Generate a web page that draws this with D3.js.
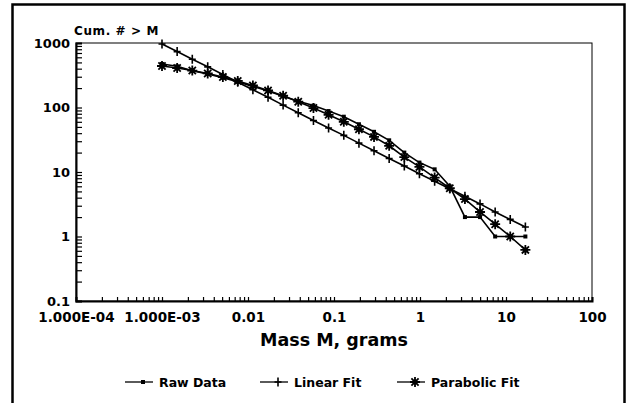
<!DOCTYPE html>
<html>
<head>
<meta charset="utf-8">
<script src="https://cdn.jsdelivr.net/npm/d3@7"></script>
<style>
  body { margin: 0; background: #fff; }
  svg { display: block; font-family: "DejaVu Sans", sans-serif; font-weight: bold; }
</style>
</head>
<body>
<div id="chart"></div>
<script>
// values
var masses = [0.001, 0.0015, 0.00225, 0.0034, 0.0051, 0.0076, 0.0114, 0.0171, 0.0256, 0.0384, 0.0577, 0.0865,
  0.13, 0.195, 0.292, 0.438, 0.657, 0.985, 1.48, 2.22, 3.33, 4.99, 7.48, 11.2, 16.8];
var rawData = [472, 435, 372, 330, 290, 250, 212, 180, 150, 125, 107, 88, 72, 55, 42, 31, 20, 14, 11, 6, 2, 2, 1, 1, 1];
var linearFit = [966, 736, 560, 427, 325, 247, 188, 144, 109, 83, 63, 48, 37, 28, 21.3, 16.2, 12.4, 9.4, 7.2, 5.5,
  4.2, 3.2, 2.4, 1.84, 1.4];
var parabolicFit = [440, 409, 374, 337, 297, 258, 220, 184, 152, 123, 98, 77, 60, 46, 35, 25.5, 17, 12, 8.2, 5.6,
  3.8, 2.4, 1.55, 1.0, 0.62];

var xTicks = [1e-4, 1e-3, 0.01, 0.1, 1, 10, 100];
var xTickLabels = ["1.000E-04", "1.000E-03", "0.01", "0.1", "1", "10", "100"];
var yTicks = [0.1, 1, 10, 100, 1000];
var yTickLabels = ["0.1", "1", "10", "100", "1000"];

var svgWidth = 631;
var svgHeight = 403;
var plot = { left: 76, right: 592, top: 43, bottom: 301 };
var font = "DejaVu Sans, sans-serif";

var svg = d3.select("#chart")
  .append("svg")
  .attr("width", svgWidth)
  .attr("height", svgHeight);

// outer frame (bottom runs off the picture)
svg.append("path")
  .attr("d", "M12.5,410V4.5H624.5V410")
  .attr("fill", "none")
  .attr("stroke", "#000")
  .attr("stroke-width", 2.5);

var xScale = d3.scaleLog().domain([1e-4, 100]).range([plot.left, plot.right]);
var yScale = d3.scaleLog().domain([0.1, 1000]).range([plot.bottom, plot.top]);

// minor + major tick positions
function logTicks(lo, hi) {
  var out = [];
  for (var e = lo; e < hi; e++) {
    for (var m = 1; m < 10; m++) out.push(m * Math.pow(10, e));
  }
  out.push(Math.pow(10, hi));
  return out;
}

// plot box
svg.append("rect")
  .attr("x", plot.left)
  .attr("y", plot.top)
  .attr("width", plot.right - plot.left)
  .attr("height", plot.bottom - plot.top)
  .attr("fill", "none")
  .attr("stroke", "#000")
  .attr("stroke-width", 1);

var bottomAxis = d3.axisBottom(xScale)
  .tickValues(logTicks(-4, 2))
  .tickSize(-4)
  .tickPadding(11)
  .tickFormat(function(d) {
    var i = xTicks.findIndex(function(t) { return Math.abs(Math.log10(t) - Math.log10(d)) < 1e-6; });
    return i >= 0 ? xTickLabels[i] : "";
  });

var xg = svg.append("g")
  .attr("transform", `translate(0, ${plot.bottom})`)
  .call(bottomAxis);
xg.select(".domain").attr("stroke-width", 2);
xg.selectAll("line").attr("stroke-width", 1.2);
xg.selectAll("text")
  .attr("font-family", font)
  .attr("font-weight", "bold")
  .attr("font-size", "13.5px")
  .attr("fill", "#000");

var leftAxis = d3.axisLeft(yScale)
  .tickValues(logTicks(-1, 3))
  .tickSize(-6)
  .tickPadding(6)
  .tickFormat(function(d) {
    var i = yTicks.findIndex(function(t) { return Math.abs(Math.log10(t) - Math.log10(d)) < 1e-6; });
    return i >= 0 ? yTickLabels[i] : "";
  });

var yg = svg.append("g")
  .attr("transform", `translate(${plot.left}, 0)`)
  .call(leftAxis);
yg.select(".domain").attr("stroke-width", 2);
yg.selectAll("line").attr("stroke-width", 1.2);
yg.selectAll("text")
  .attr("font-family", font)
  .attr("font-weight", "bold")
  .attr("font-size", "13px")
  .attr("fill", "#000");

// axis titles
svg.append("text")
  .attr("x", 74)
  .attr("y", 35)
  .attr("font-size", "12px")
  .attr("letter-spacing", "0.6px")
  .text("Cum. # > M");

svg.append("text")
  .attr("x", 334)
  .attr("y", 346)
  .attr("text-anchor", "middle")
  .attr("font-size", "17.5px")
  .text("Mass M, grams");

// markers
function drawMarker(g, type) {
  if (type === "square") {
    g.append("rect").attr("x", -2).attr("y", -2).attr("width", 4).attr("height", 4).attr("fill", "#000");
  } else if (type === "plus") {
    g.append("path").attr("d", "M0,-4.5V4.5M-3.5,0H3.5")
      .attr("stroke", "#000").attr("stroke-width", 1.6);
  } else {
    g.append("path").attr("d", "M0,-5V5M-5,0H5M-3.6,-3.6L3.6,3.6M-3.6,3.6L3.6,-3.6")
      .attr("stroke", "#000").attr("stroke-width", 1.8);
    g.append("circle").attr("r", 2.5).attr("fill", "#000");
  }
}

var series = [
  { name: "Raw Data", values: rawData, marker: "square" },
  { name: "Linear Fit", values: linearFit, marker: "plus" },
  { name: "Parabolic Fit", values: parabolicFit, marker: "star" }
];

var line = d3.line()
  .x(function(d) { return xScale(d[0]); })
  .y(function(d) { return yScale(d[1]); });

series.forEach(function(s) {
  var pts = masses.map(function(m, i) { return [m, s.values[i]]; });
  svg.append("path")
    .datum(pts)
    .attr("d", line)
    .attr("fill", "none")
    .attr("stroke", "#000")
    .attr("stroke-width", 1.6);

  svg.selectAll(null)
    .data(pts)
    .enter()
    .append("g")
    .attr("transform", function(d) { return `translate(${xScale(d[0])}, ${yScale(d[1])})`; })
    .each(function() { drawMarker(d3.select(this), s.marker); });
});

// legend
var legendX = [125, 260, 397];
series.forEach(function(s, i) {
  var g = svg.append("g").attr("transform", `translate(${legendX[i]}, 382)`);
  g.append("line").attr("x1", 0).attr("x2", 28).attr("y1", 0).attr("y2", 0)
    .attr("stroke", "#000").attr("stroke-width", 1.3);
  var mk = g.append("g").attr("transform", "translate(18, 0)");
  drawMarker(mk, s.marker);
  g.append("text")
    .attr("x", 34)
    .attr("y", 4.5)
    .attr("font-size", "12.5px")
    .text(s.name);
});
</script>
</body>
</html>
